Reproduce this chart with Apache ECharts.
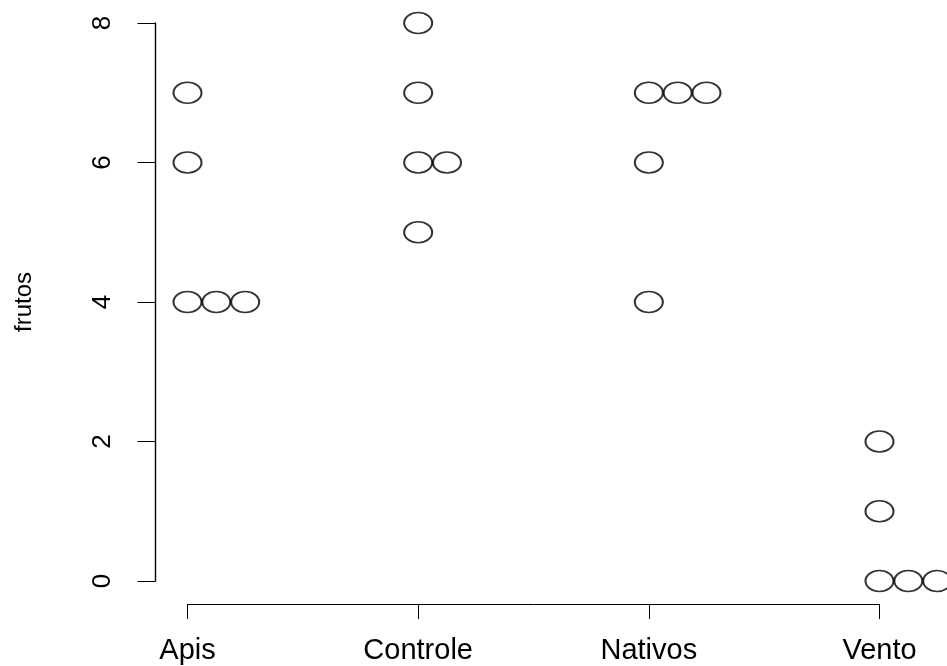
<!DOCTYPE html>
<html><head><meta charset="utf-8">
<script src="https://cdn.jsdelivr.net/npm/echarts@6/dist/echarts.min.js"></script>
<style>html,body{margin:0;padding:0;background:#fff}#c{width:947px;height:666px}</style>
</head><body><div id="c"></div>
<script>
const categories = ['Apis', 'Controle', 'Nativos', 'Vento'];
const apis = [7, 6, 4, 4, 4];
const controle = [8, 7, 6, 6, 5];
const nativos = [7, 7, 7, 6, 4];
const vento = [2, 1, 0, 0, 0];
const yTicks = [0, 2, 4, 6, 8];
const groups = [apis, controle, nativos, vento];
const stackOffset = 0.125;

// stripchart(method = "stack"): repeated values are shifted to the right
const points = [];
groups.forEach((vals, gi) => {
  const seen = {};
  vals.forEach(v => {
    const k = seen[v] || 0;
    seen[v] = k + 1;
    points.push([gi + 1 + k * stackOffset, v]);
  });
});

const font = 'Liberation Sans, Arial, sans-serif';
const chart = echarts.init(document.getElementById('c'));
chart.setOption({
  animation: false,
  backgroundColor: '#fff',
  grid: { left: 187.5, right: 67.5, top: 23, bottom: 85 },
  xAxis: {
    type: 'value', min: 1, max: 4, interval: 1, offset: 23,
    splitLine: { show: false },
    axisLine: { show: true, onZero: false, lineStyle: { color: '#000', width: 1 } },
    axisTick: { show: true, length: 15, lineStyle: { color: '#000', width: 1 } },
    axisLabel: {
      color: '#000', fontFamily: font, fontSize: 29, margin: 32,
      formatter: v => categories[Math.round(v) - 1] || ''
    }
  },
  yAxis: {
    type: 'value', min: yTicks[0], max: yTicks[yTicks.length - 1], interval: 2, offset: 32,
    name: 'frutos', nameLocation: 'middle', nameGap: 119, nameRotate: 90,
    nameTextStyle: { color: '#000', fontFamily: font, fontSize: 24 },
    splitLine: { show: false },
    axisLine: { show: true, onZero: false, lineStyle: { color: '#000', width: 1.4 } },
    axisTick: { show: true, length: 18, lineStyle: { color: '#000', width: 1 } },
    axisLabel: {
      color: '#000', fontFamily: font, fontSize: 26, rotate: 90, margin: 40,
      formatter: v => yTicks.includes(v) ? String(v) : ''
    }
  },
  series: [{
    type: 'scatter',
    clip: false,
    data: points,
    symbol: 'path://M0,10 A14,10 0 1,1 28,10 A14,10 0 1,1 0,10 Z',
    symbolSize: [28, 21],
    symbolKeepAspect: false,
    itemStyle: { color: 'rgba(0,0,0,0)', borderColor: '#000', borderWidth: 1.8 }
  }]
});
</script></body></html>
